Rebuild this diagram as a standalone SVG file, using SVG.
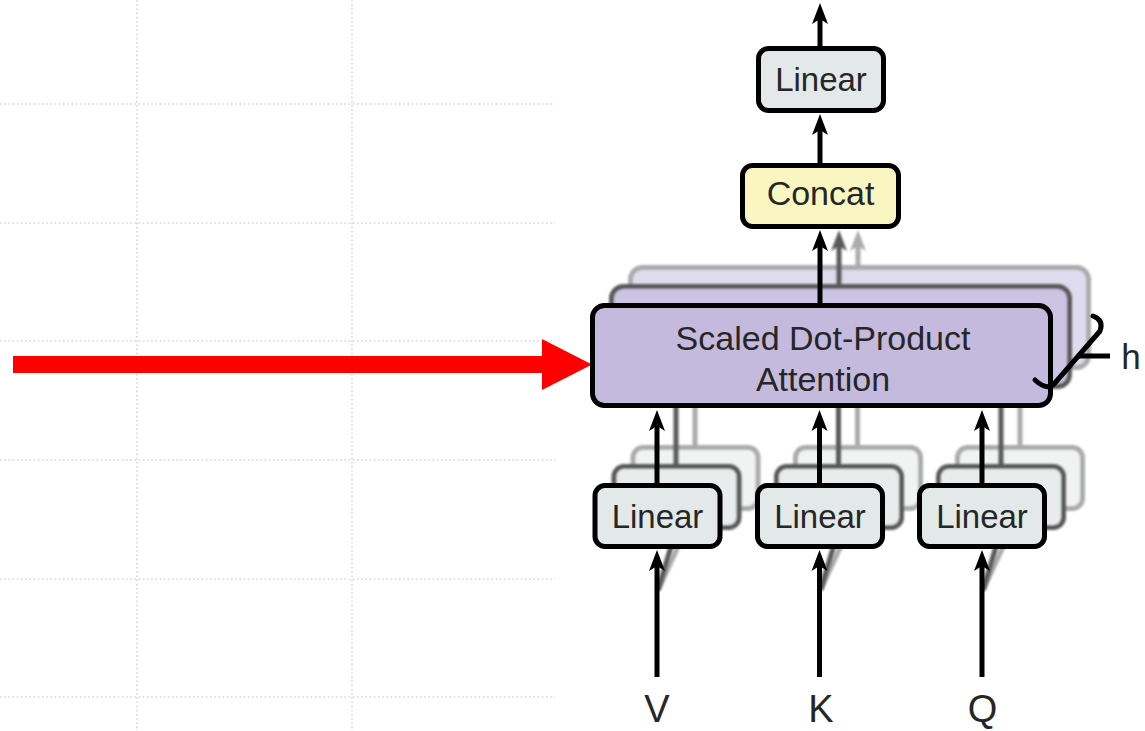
<svg xmlns="http://www.w3.org/2000/svg" xmlns:xlink="http://www.w3.org/1999/xlink" width="1145" height="731" viewBox="0 0 1145 731">
<style>
.grid line{stroke:#d6d6d6;stroke-width:1.6;stroke-dasharray:1.6 2.6}
.front{stroke:#000;stroke-width:5}
.mid{stroke:#5a5a5a;stroke-width:5}
.back{stroke:#ababab;stroke-width:5}
.lin-f{fill:#E3E9E9}
.lin-m{fill:#E8ECEC}
.lin-b{fill:#F1F3F3}
.att-f{fill:#C4BADD}
.att-m{fill:#CCC4E3}
.att-b{fill:#DFDBEE}
.con{fill:#FAF6C2}
.lbl{font-family:"Liberation Sans",Arial,sans-serif;fill:#262626;text-anchor:middle}
.wire{fill:none;stroke-width:5}
</style>
<defs>
<path id="ah" d="M0,0 L-8,21 L0,16 L8,21 Z"/>
<filter id="soft" x="-5%" y="-5%" width="110%" height="110%"><feGaussianBlur stdDeviation="0.9"/></filter>
</defs>
<rect width="1145" height="731" fill="#fff"/>
<g class="grid" id="grid">
<line x1="137" y1="0" x2="137" y2="731"/>
<line x1="352" y1="0" x2="352" y2="731"/>
<line x1="0" y1="104" x2="555" y2="104"/>
<line x1="0" y1="223" x2="555" y2="223"/>
<line x1="0" y1="341" x2="555" y2="341"/>
<line x1="0" y1="460" x2="555" y2="460"/>
<line x1="0" y1="579" x2="555" y2="579"/>
<line x1="0" y1="697" x2="555" y2="697"/>
</g>
<g id="red-arrow" fill="#FF0000">
<rect x="13" y="356" width="530" height="17"/>
<polygon points="542,339 592,364.5 542,390"/>
</g>
<!-- back layer (head 3) -->
<g id="layer-back" filter="url(#soft)">
<g class="wire back">
<line x1="658" y1="590" x2="695" y2="510"/>
<line x1="820.5" y1="590" x2="857.5" y2="510"/>
<line x1="983" y1="590" x2="1020" y2="510"/>
</g>
<rect class="back lin-b" x="633" y="447.5" width="125" height="61" rx="10"/>
<rect class="back lin-b" x="795.5" y="447.5" width="125" height="61" rx="10"/>
<rect class="back lin-b" x="957.5" y="447.5" width="125" height="61" rx="10"/>
<g class="wire back">
<line x1="695" y1="445" x2="695" y2="370"/>
<line x1="857.5" y1="445" x2="857.5" y2="370"/>
<line x1="1020" y1="445" x2="1020" y2="370"/>
</g>
<rect class="back att-b" x="630.5" y="267.5" width="458" height="100" rx="12"/>
<line class="wire back" x1="858" y1="265" x2="858" y2="246"/>
<use xlink:href="#ah" x="858" y="230" fill="#ababab"/>
</g>
<!-- middle layer (head 2) -->
<g id="layer-mid" filter="url(#soft)">
<g class="wire mid">
<line x1="658" y1="590" x2="676" y2="530"/>
<line x1="820.5" y1="590" x2="838.5" y2="530"/>
<line x1="983" y1="590" x2="1001" y2="530"/>
</g>
<rect class="mid lin-m" x="614" y="466.5" width="125" height="61" rx="10"/>
<rect class="mid lin-m" x="776.5" y="466.5" width="125" height="61" rx="10"/>
<rect class="mid lin-m" x="938.5" y="466.5" width="125" height="61" rx="10"/>
<g class="wire mid">
<line x1="676" y1="464" x2="676" y2="389"/>
<line x1="838.5" y1="464" x2="838.5" y2="389"/>
<line x1="1001" y1="464" x2="1001" y2="389"/>
</g>
<rect class="mid att-m" x="611.5" y="286.5" width="458" height="100" rx="12"/>
<line class="wire mid" x1="839" y1="284" x2="839" y2="246"/>
<use xlink:href="#ah" x="839" y="230" fill="#5a5a5a"/>
</g>
<!-- front nodes -->
<g id="node-linear-out">
<rect class="front lin-f" x="758.5" y="48.5" width="125" height="62" rx="10"/>
<text class="lbl" x="821" y="91" font-size="33">Linear</text>
</g>
<g id="node-concat">
<rect class="front con" x="742.5" y="165.5" width="156" height="61" rx="10"/>
<text class="lbl" x="820.5" y="205" font-size="34">Concat</text>
</g>
<g id="node-attention">
<rect class="front att-f" x="592.5" y="305.5" width="458" height="100" rx="12"/>
<text class="lbl" x="823" y="350" font-size="34">Scaled Dot-Product</text>
<text class="lbl" x="823" y="391" font-size="34">Attention</text>
</g>
<g id="node-linear-v">
<rect class="front lin-f" x="595" y="485.5" width="125" height="61" rx="10"/>
<text class="lbl" x="657.5" y="527.5" font-size="33">Linear</text>
</g>
<g id="node-linear-k">
<rect class="front lin-f" x="757.5" y="485.5" width="125" height="61" rx="10"/>
<text class="lbl" x="820" y="527.5" font-size="33">Linear</text>
</g>
<g id="node-linear-q">
<rect class="front lin-f" x="919.5" y="485.5" width="125" height="61" rx="10"/>
<text class="lbl" x="982" y="527.5" font-size="33">Linear</text>
</g>
<g id="node-inputs">
<text class="lbl" x="657" y="722" font-size="38">V</text>
<text class="lbl" x="821" y="722" font-size="38">K</text>
<text class="lbl" x="982.5" y="722" font-size="38">Q</text>
</g>
<g id="node-h">
<path class="wire front" d="M1093,316 Q1104,320 1100,331 L1054,384 Q1047,391 1035,380" stroke-linecap="round" stroke-linejoin="round"/>
<line class="wire front" x1="1078" y1="356" x2="1110" y2="356"/>
<text class="lbl" x="1131" y="369" font-size="35">h</text>
</g>
<!-- front connectors -->
<g id="connectors">
<g class="wire front">
<line x1="820" y1="46" x2="820" y2="18"/>
<line x1="820" y1="163" x2="820" y2="129"/>
<line x1="820" y1="303" x2="820" y2="245"/>
<line x1="657" y1="483" x2="657" y2="425"/>
<line x1="819.5" y1="483" x2="819.5" y2="425"/>
<line x1="982" y1="483" x2="982" y2="425"/>
<line x1="657" y1="677" x2="657" y2="565"/>
<line x1="819.5" y1="677" x2="819.5" y2="565"/>
<line x1="982" y1="677" x2="982" y2="565"/>
</g>
<g fill="#000">
<use xlink:href="#ah" x="820" y="3"/>
<use xlink:href="#ah" x="820" y="114"/>
<use xlink:href="#ah" x="820" y="230"/>
<use xlink:href="#ah" x="657" y="410"/>
<use xlink:href="#ah" x="819.5" y="410"/>
<use xlink:href="#ah" x="982" y="410"/>
<use xlink:href="#ah" x="657" y="550"/>
<use xlink:href="#ah" x="819.5" y="550"/>
<use xlink:href="#ah" x="982" y="550"/>
</g>
</g>
</svg>
